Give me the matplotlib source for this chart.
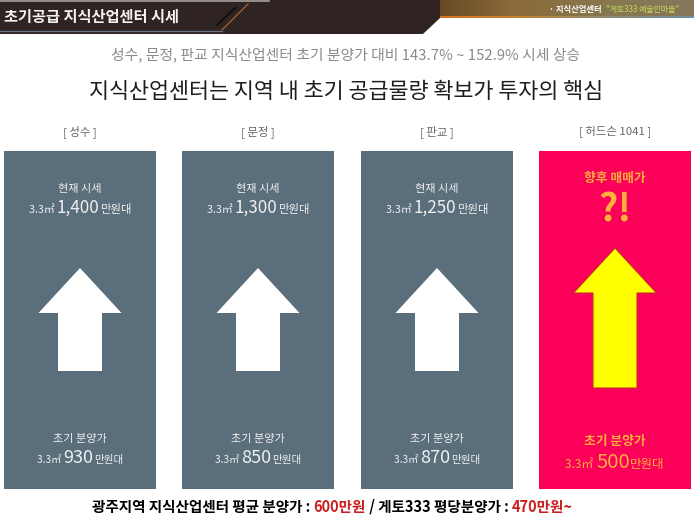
import matplotlib
matplotlib.use('Agg')
import matplotlib.pyplot as plt
from matplotlib.colors import LinearSegmentedColormap
from matplotlib.patches import Polygon, Rectangle
import numpy as np

plt.rcParams['font.family'] = ['Noto Sans CJK KR', 'DejaVu Sans']

regions = ['[ 성수 ]', '[ 문정 ]', '[ 판교 ]', '[ 허드슨 1041 ]']
current_prices = ['1,400', '1,300', '1,250', None]
initial_prices = ['930', '850', '870', '500']

GREY = '#5a6e7b'
PINK = '#fb0058'
ORANGE = '#fdb03c'
LIGHT = '#f0f0f0'

W, H = 694, 528
fig = plt.figure(figsize=(W / 100, H / 100), dpi=100)
ax = fig.add_axes([0, 0, 1, 1])
r = fig.canvas.get_renderer()


def text_width(s, **kw):
    # trailing spaces do not count in an extent, so measure against a bar
    a = ax.text(0, 0, s + '|', **kw)
    b = ax.text(0, 0, '|', **kw)
    w = a.get_window_extent(r).width - b.get_window_extent(r).width
    a.remove()
    b.remove()
    return w


def run_line(x, y, parts, **kw):
    # parts are (string, size, colour), laid out left to right on one baseline
    for s, size, color in parts:
        ax.text(x, y, s, fontsize=size, color=color, ha='left', va='baseline', **kw)
        x += text_width(s, fontsize=size, **kw)


def price_line(cx, y, value, sizes, color):
    parts = [('3.3㎡ ', sizes[0], color), (value, sizes[1], color), ('만원대', sizes[2], color)]
    total = sum(text_width(s, fontsize=size) for s, size, c in parts)
    run_line(cx - total / 2, y, parts)


def up_arrow(cx, tip, head_y, bottom, head_w, shaft_w, **kw):
    pts = [(cx, tip), (cx + head_w / 2, head_y), (cx + shaft_w / 2, head_y),
           (cx + shaft_w / 2, bottom), (cx - shaft_w / 2, bottom),
           (cx - shaft_w / 2, head_y), (cx - head_w / 2, head_y)]
    ax.add_patch(Polygon(pts, closed=True, **kw))


# header band
grad = np.linspace(0, 1, 256).reshape(1, -1)
gold = LinearSegmentedColormap.from_list('gold', ['#5f4020', '#8a6a38', '#87774f', '#85785c'])
edge = LinearSegmentedColormap.from_list('edge', ['#d9701e', '#c9822f', '#8f8a70', '#6f8ea0'])
ax.imshow(grad, extent=[420, W, 16.5, 0], cmap=gold, aspect='auto', zorder=0)
ax.imshow(grad, extent=[420, W, 18, 16.5], cmap=edge, aspect='auto', zorder=0)
ax.set_xlim(0, W)
ax.set_ylim(H, 0)
ax.axis('off')
ax.add_patch(Polygon([(0, 0), (440, 0), (440, 18), (423, 34), (0, 34)], color='#2f2421', lw=0, zorder=1))
ax.plot([217, 235], [25, 8], color='#151010', lw=1.6, zorder=2)
ax.plot([222, 248], [30, 4], color='#a8623a', lw=0.9, zorder=2)
ax.plot([0, 222], [30.5, 30.5], color='#6a6f85', lw=0.9, zorder=2)
ax.plot([0, 269], [0.5, 0.5], color='#a8a29c', lw=1.2, zorder=2)
ax.text(4, 16.5, '초기공급 지식산업센터 시세', fontsize=11, fontweight='bold', color='#f4f4f4',
        va='center', zorder=3)
ax.text(549, 9.5, '· 지식산업센터', fontsize=6, fontweight='bold', color='white', va='center', zorder=3)
ax.text(606, 9.5, '"게토333 예술인마을"', fontsize=5.7, color='#c6d95a', va='center', zorder=3)

ax.text(346, 55, '성수, 문정, 판교 지식산업센터 초기 분양가 대비 143.7% ~ 152.9% 시세 상승',
        fontsize=10.7, color='#8b8b8b', ha='center', va='center')
ax.text(346, 92, '지식산업센터는 지역 내 초기 공급물량 확보가 투자의 핵심',
        fontsize=15.7, fontweight='medium', color='#1e1e1e', ha='center', va='center')

lefts = [4, 182, 361, 539]
for i, left in enumerate(lefts):
    cx = left + 76
    last = i == 3
    ax.text(cx, 132, regions[i], fontsize=8.2, color='#666666', ha='center', va='center')
    ax.add_patch(Rectangle((left, 151), 152, 338, color=PINK if last else GREY, lw=0))
    if last:
        ax.text(cx, 178, '향후 매매가', fontsize=9.2, fontweight='bold', color=ORANGE, ha='center', va='center')
        ax.text(cx, 222, '?!', fontsize=27, fontweight='bold', color=ORANGE, ha='center', va='baseline')
        up_arrow(cx, 248, 293, 388, 83, 44, facecolor='#ffff00', edgecolor='#c8302a', lw=0.8)
        ax.text(cx, 441, '초기 분양가', fontsize=9.2, fontweight='bold', color=ORANGE, ha='center', va='center')
        price_line(cx, 468, initial_prices[i], (8.6, 14.6, 9), ORANGE)
    else:
        ax.text(cx, 189, '현재 시세', fontsize=8, color=LIGHT, ha='center', va='center')
        price_line(cx, 213, current_prices[i], (7.8, 12.3, 8.2), LIGHT)
        up_arrow(cx, 268, 313, 371, 83, 44, facecolor='white', edgecolor='none')
        ax.text(cx, 439, '초기 분양가', fontsize=8, color=LIGHT, ha='center', va='center')
        price_line(cx, 463, initial_prices[i], (7.3, 13, 7.6), LIGHT)

# bottom line, several colours
segs = [('광주지역 지식산업센터 평균 분양가 : ', 10.5, 'black'), ('600만원', 10.5, '#c81e1e'),
        (' / 게토333 평당분양가 : ', 10.5, 'black'), ('470만원~', 10.5, '#c81e1e')]
run_line(92, 512, segs, fontweight='bold')

fig.savefig('out.png', dpi=100)
